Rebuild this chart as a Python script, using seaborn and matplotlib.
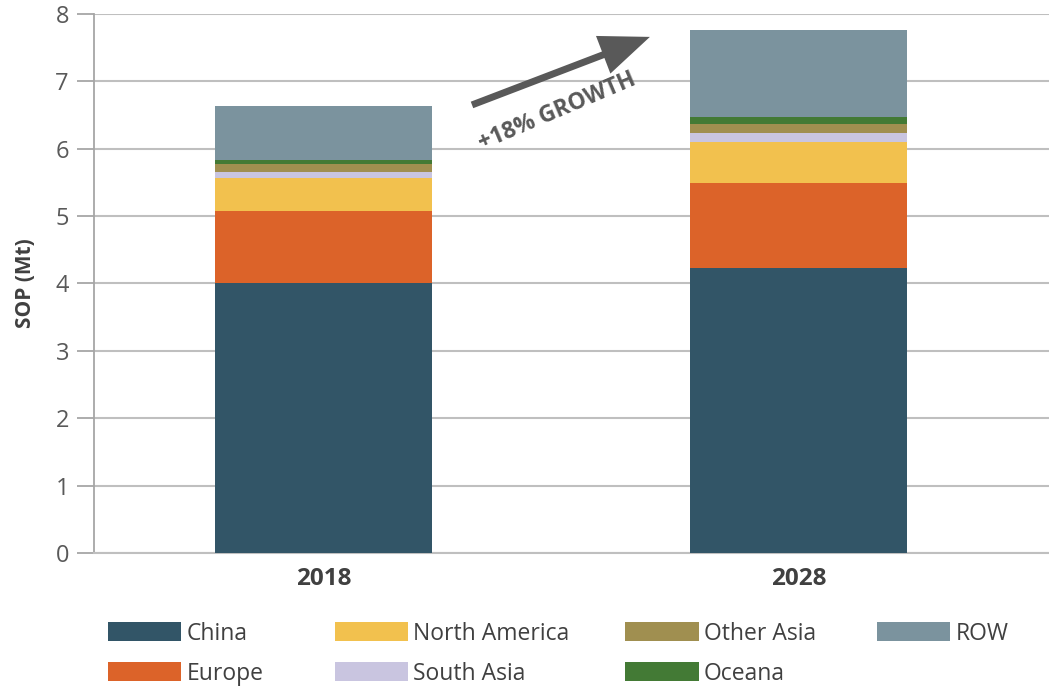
import numpy as np
import pandas as pd
import matplotlib
matplotlib.use("Agg")
import matplotlib.pyplot as plt
from matplotlib.patches import Patch
import seaborn as sns

years = ["2018", "2028"]
regions = ["China", "Europe", "North America", "South Asia", "Other Asia", "Oceana", "ROW"]
china = [4.00, 4.23]
europe = [1.07, 1.26]
north_america = [0.50, 0.61]
south_asia = [0.09, 0.13]
other_asia = [0.11, 0.13]
oceana = [0.07, 0.11]
row = [0.79, 1.29]
colors = ["#325567", "#DC6329", "#F2C14E", "#C9C5E0", "#A08F50", "#437A35", "#7B939E"]
y_ticks = [0, 1, 2, 3, 4, 5, 6, 7, 8]

sns.set_theme(style="white")
plt.rcParams["font.family"] = ["Open Sans", "DejaVu Sans"]

series = [china, europe, north_america, south_asia, other_asia, oceana, row]
df = pd.DataFrame({r: v for r, v in zip(regions, series)}, index=years)
cum = df.cumsum(axis=1)

fig = plt.figure(figsize=(10.49, 6.86), dpi=100)
ax = fig.add_axes([0.0896, 0.194, 0.9104, 0.7856])

# draw cumulative totals from the top layer down so each layer covers the ones above it
for reg, col in zip(reversed(regions), reversed(colors)):
    sns.barplot(x=years, y=cum[reg].values, color=col, width=0.457,
                saturation=1, ax=ax, zorder=3, linewidth=0)

ax.set_xlim(-0.483, 1.527)
ax.set_ylim(0, 8)
ax.set_yticks(y_ticks)
ax.set_yticklabels([str(t) for t in y_ticks], fontsize=17, color="#595959")
ax.yaxis.grid(True, color="#BFBFBF", linewidth=1.5, zorder=0)
ax.tick_params(axis="y", which="both", left=True, length=12, width=1.3,
               color="#A6A6A6", pad=6)
ax.tick_params(axis="x", bottom=False, pad=4)
for lbl in ax.get_xticklabels():
    lbl.set_fontsize(17.5)
    lbl.set_fontweight("bold")
    lbl.set_color("#404040")
for s in ["top", "right"]:
    ax.spines[s].set_visible(False)
ax.spines["left"].set_color("#A6A6A6")
ax.spines["left"].set_linewidth(1.3)
ax.spines["bottom"].set_color("#BFBFBF")
ax.spines["bottom"].set_linewidth(1.5)
ax.set_ylabel("SOP (Mt)", fontsize=15, fontweight="bold", color="#404040",
              labelpad=14)

# growth arrow and label
ax.annotate("", xy=(0.687, 7.66), xytext=(0.3126, 6.65),
            arrowprops=dict(width=5, headwidth=29, headlength=36,
                            facecolor="#595959", edgecolor="none",
                            shrink=0),
            zorder=5)
ax.text(0.492, 6.55, "+18% GROWTH", rotation=23, fontsize=16.5, fontweight="bold",
        color="#595959", ha="center", va="center", rotation_mode="anchor",
        zorder=5)

# legend laid out in four columns
handles = [Patch(facecolor=c, edgecolor="none", label=r) for r, c in zip(regions, colors)]
col_groups = [[0, 1], [2, 3], [4, 5], [6]]
col_x = [0.103, 0.319, 0.596, 0.836]
for xs, grp in zip(col_x, col_groups):
    leg = fig.legend(handles=[handles[i] for i in grp], loc="upper left",
                     bbox_to_anchor=(xs, 0.094), frameon=False, fontsize=16.5,
                     handlelength=3.2, handleheight=0.9, handletextpad=0.23,
                     labelspacing=0.7, borderaxespad=0, borderpad=0)
    for t in leg.get_texts():
        t.set_color("#404040")

fig.savefig("out.png", dpi=100)
